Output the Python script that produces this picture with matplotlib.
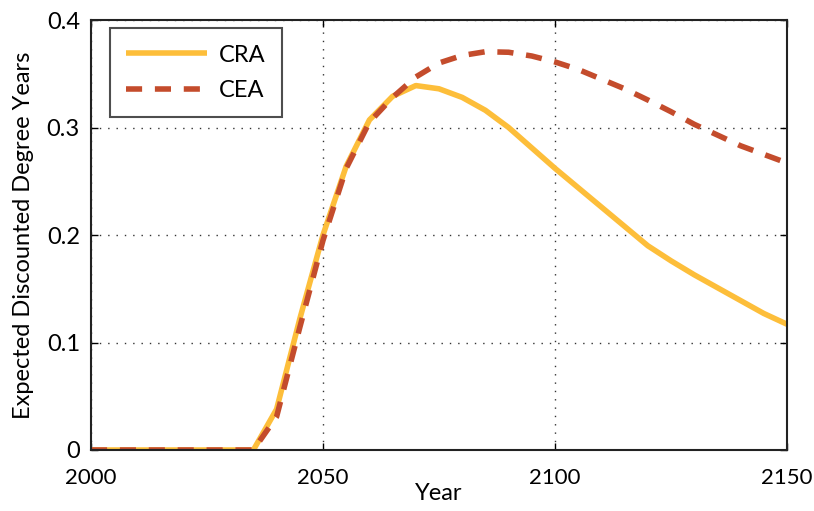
import matplotlib
matplotlib.use("Agg")
import matplotlib.pyplot as plt

years = list(range(2000, 2151, 5))
cra = [0, 0, 0, 0, 0, 0, 0, 0.0, 0.038, 0.122, 0.200, 0.264, 0.307, 0.329, 0.339,
       0.336, 0.328, 0.316, 0.300, 0.281, 0.262, 0.244, 0.226, 0.208, 0.190, 0.176,
       0.163, 0.151, 0.139, 0.127, 0.117]
cea = [0, 0, 0, 0, 0, 0, 0, 0.0, 0.031, 0.114, 0.195, 0.262, 0.305, 0.328, 0.347,
       0.360, 0.367, 0.3705, 0.370, 0.3665, 0.361, 0.354, 0.345, 0.336, 0.3256, 0.3147,
       0.303, 0.293, 0.283, 0.275, 0.267]

plt.rcParams['font.family'] = ['Lato', 'DejaVu Sans']
fig = plt.figure(figsize=(8.14, 5.11), dpi=100)
ax = fig.add_axes([91/814, 1-450/511, 696/814, 430/511])

ax.plot(years, cra, color='#FDBE3A', lw=4, label='CRA', solid_capstyle='butt')
ax.plot(years, cea, color='#C44C2C', lw=4, ls=(0, (2.9, 2.3)), label='CEA')

ax.set_xlim(2000, 2150)
ax.set_ylim(0, 0.4)
ax.set_xticks([2000, 2050, 2100, 2150])
ax.set_yticks([0, 0.1, 0.2, 0.3, 0.4])
ax.set_yticklabels(['0', '0.1', '0.2', '0.3', '0.4'])
ax.tick_params(direction='in', top=True, right=True, labelsize=17, length=5, width=1)
ax.tick_params(axis='x', pad=13, labelsize=16)
ax.tick_params(axis='y', pad=8)
ax.grid(True, ls=(0, (1, 5)), color='#333333', lw=1)
for s in ax.spines.values():
    s.set_linewidth(1.5)
    s.set_color('#222222')
ax.set_xlabel('Year', fontsize=17, labelpad=-4)
ax.set_ylabel('Expected Discounted Degree Years', fontsize=17, labelpad=9)

leg = ax.legend(loc='upper left', bbox_to_anchor=(0.027, 0.981), fontsize=17, frameon=True,
                fancybox=False, edgecolor='#222222', handlelength=3.4, borderpad=0.7,
                labelspacing=0.6, handletextpad=0.5, borderaxespad=0)
leg.get_frame().set_linewidth(1.5)

fig.savefig('out.png', dpi=100)
